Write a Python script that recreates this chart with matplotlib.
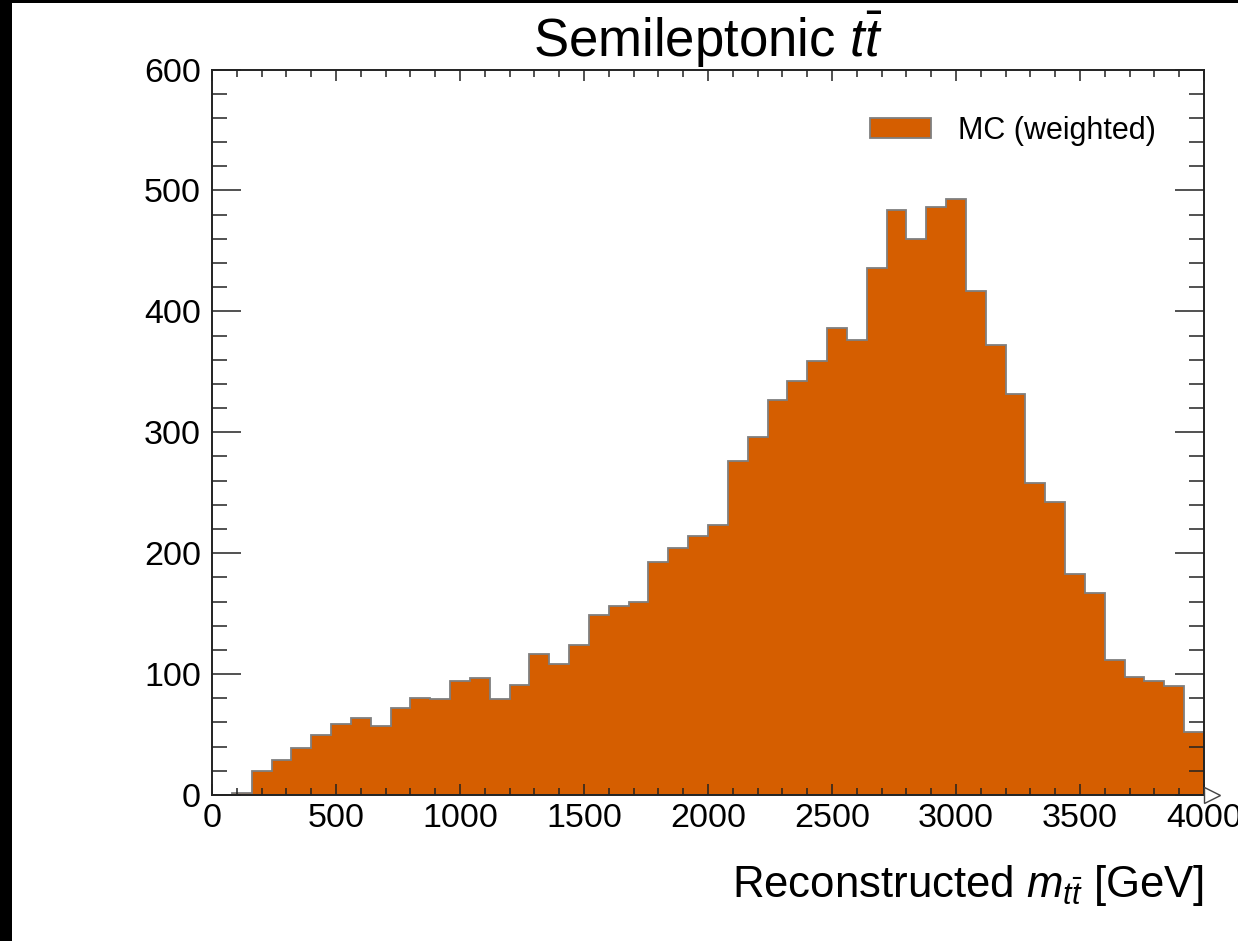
import numpy as np
import matplotlib
matplotlib.use("Agg")
import matplotlib.pyplot as plt
from matplotlib.patches import Rectangle
from matplotlib.ticker import MultipleLocator
import matplotlib.transforms as mtransforms

# data: 50 bins of 80 GeV from 0 to 4000
edges = np.linspace(0, 4000, 51)
counts = [0, 2, 20, 29, 39, 50, 59, 64, 57, 72,
          80, 79, 94, 97, 79, 91, 117, 108, 124, 149,
          156, 160, 193, 204, 214, 223, 276, 296, 327, 342,
          359, 386, 376, 436, 484, 460, 486, 493, 417, 372,
          332, 258, 242, 183, 167, 112, 98, 94, 90, 52]
label = "MC (weighted)"

plt.rcParams['font.family'] = ['Liberation Sans', 'DejaVu Sans']
plt.rcParams['mathtext.fontset'] = 'custom'
plt.rcParams['mathtext.rm'] = 'Liberation Sans'
plt.rcParams['mathtext.it'] = 'Liberation Sans:italic'
plt.rcParams['mathtext.bf'] = 'Liberation Sans:bold'

fig = plt.figure(figsize=(12.38, 9.41), dpi=100)
ax = fig.add_axes([212/1238, 1 - 795/941, 992/1238, (795 - 69.5)/941])

ax.hist(edges[:-1], bins=edges, weights=counts, histtype='stepfilled',
        facecolor='#d55e00', edgecolor='#7f7f7f', linewidth=1.3, label=label)

ax.set_xlim(0, 4000)
ax.set_ylim(0, 600)
ax.xaxis.set_major_locator(MultipleLocator(500))
ax.xaxis.set_minor_locator(MultipleLocator(100))
ax.yaxis.set_major_locator(MultipleLocator(100))
ax.yaxis.set_minor_locator(MultipleLocator(20))
ax.tick_params(which='both', direction='in', top=True, right=True,
               labelsize=24.5, width=1.1, color='#222222')
ax.tick_params(axis='x', which='major', length=8, pad=6)
ax.tick_params(axis='x', which='minor', length=5)
ax.tick_params(axis='y', which='major', length=21, pad=8)
ax.tick_params(axis='y', which='minor', length=11)
for s in ax.spines.values():
    s.set_linewidth(1.4)
    s.set_color('#222222')

# open arrow at end of x axis
off = mtransforms.offset_copy(ax.transAxes, fig=fig, x=8, y=0, units='dots')
ax.plot([1], [0], marker='>', markersize=12, mfc='white', mec='#444444',
        mew=1.0, transform=off, clip_on=False, zorder=5)

ax.set_title(r"Semileptonic $t\bar{t}$", fontsize=38, pad=3)
ax.set_xlabel(r"Reconstructed $m_{t\bar{t}}$ [GeV]", fontsize=31.5,
              loc='right', labelpad=21)

ax.legend(loc='upper right', fontsize=22, frameon=False, handlelength=2.0,
          handleheight=0.65, handletextpad=0.9, borderpad=0, borderaxespad=0,
          bbox_to_anchor=(1 - 48/992, 1 - 46/725.5))

# black screen border
fig.patches.append(Rectangle((0, 0), 12/1238, 1, transform=fig.transFigure,
                             facecolor='black', edgecolor='none', zorder=10))
fig.patches.append(Rectangle((0, 1 - 3/941), 1, 3/941, transform=fig.transFigure,
                             facecolor='black', edgecolor='none', zorder=10))

fig.savefig('out.png', dpi=100)
